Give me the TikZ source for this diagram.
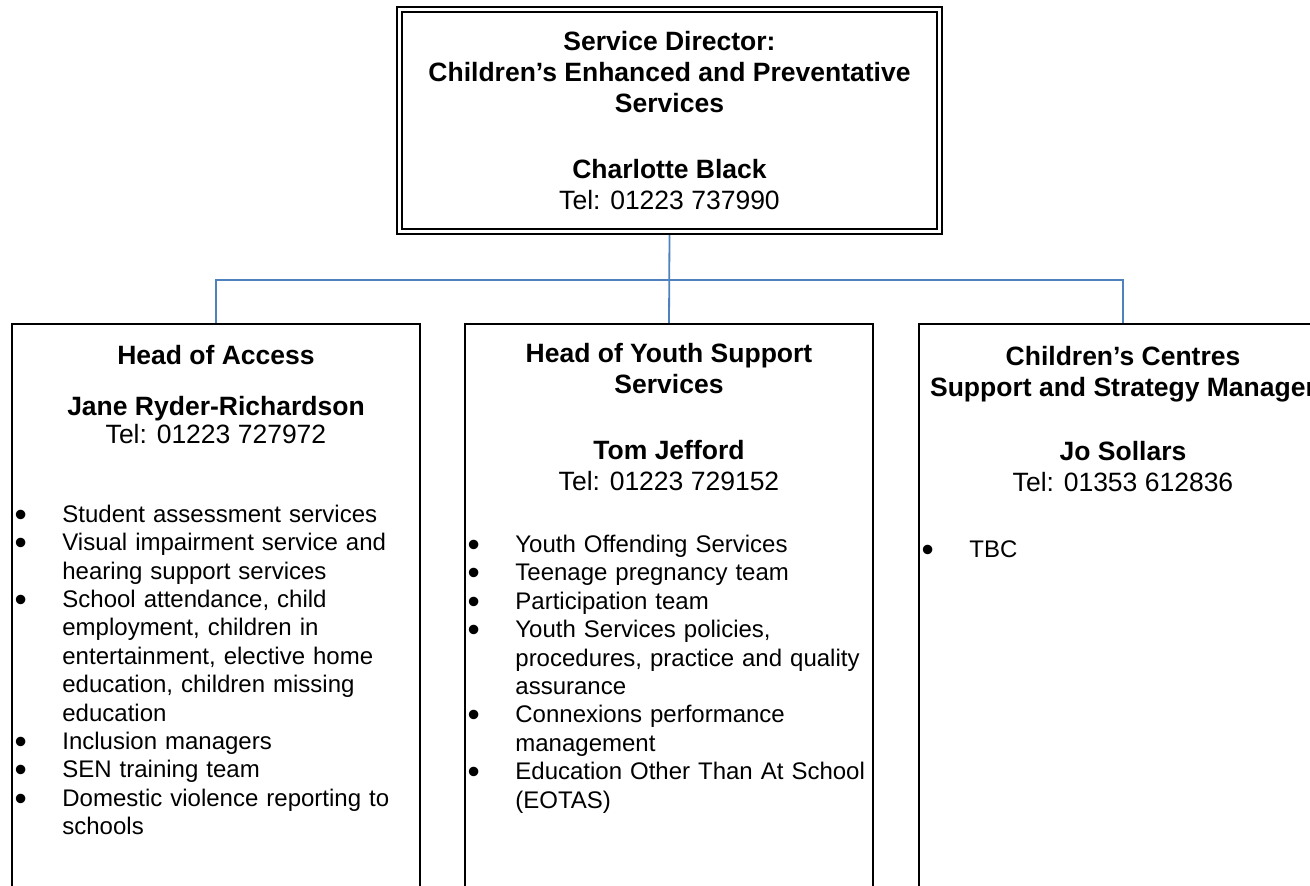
\documentclass[tikz,border=0pt]{standalone}
\usepackage{fontspec}
\setmainfont{Liberation Sans}
\usepackage{xcolor}
\usetikzlibrary{positioning,calc,backgrounds}

\definecolor{linkblue}{RGB}{79,129,189}
\newcommand{\titlefont}{\fontsize{13.25pt}{15.5pt}\selectfont\bfseries}
\newcommand{\dutyfont}{\fontsize{12pt}{14.2pt}\selectfont}
\newcommand{\dutymark}{\smash{\raisebox{-2pt}{\scalebox{1.45}{\textbullet}}}}
\newenvironment{dutylist}{\begin{list}{\dutymark}{\setlength{\leftmargin}{25.5pt}\setlength{\labelwidth}{7.2pt}\setlength{\labelsep}{17.8pt}\setlength{\itemsep}{0pt}\setlength{\parsep}{0pt}\setlength{\topsep}{0pt}\setlength{\partopsep}{0pt}\setlength{\itemindent}{0pt}}}{\end{list}}

\tikzset{
  unitbox/.style={draw, line width=1pt, minimum width=204pt, minimum height=350pt, anchor=north},
  headtext/.style={align=center, inner sep=0pt, font=\titlefont},
  duties/.style={anchor=north west, inner sep=0pt, text width=202pt, align=left, font=\dutyfont},
  link/.style={draw=linkblue, line width=0.9pt}
}

\begin{document}
\begin{tikzpicture}[x=0.5pt, y=-0.5pt]
  \useasboundingbox (0,0) rectangle (1310,886);

  \node[draw, double, line width=1pt, double distance=1.5pt, minimum width=270pt, minimum height=111.25pt, align=center, font=\titlefont] (director) at (669.5,120.5) {Service Director:\\Children’s Enhanced and Preventative\\Services\\[17.5pt]Charlotte Black\\{\mdseries Tel: 01223 737990}};

  \node[unitbox] (access) at (216,323) {};
  \node[unitbox] (youth) at (669,323) {};
  \node[unitbox] (centres) at (1123,323) {};

  \node[headtext, below=10.75pt of access.north] (accesshead) {Head of Access\\[10pt]Jane Ryder-Richardson\\[-1.5pt]{\mdseries Tel: 01223 727972}};
  \node[headtext, below=9.75pt of youth.north] (youthhead) {Head of Youth Support\\Services\\[17.5pt]Tom Jefford\\{\mdseries Tel: 01223 729152}};
  \node[headtext, below=11.25pt of centres.north] (centreshead) {Children’s Centres\\Support and Strategy Manager\\[16.5pt]Jo Sollars\\{\mdseries Tel: 01353 612836}};

  \node[duties] (accessduties) at ([yshift=-85.3pt]access.north west) {\begin{dutylist}
    \item Student assessment services
    \item Visual impairment service and\\hearing support services
    \item School attendance, child\\employment, children in\\entertainment, elective home\\education, children missing\\education
    \item Inclusion managers
    \item SEN training team
    \item Domestic violence reporting to\\schools
  \end{dutylist}};
  \node[duties] (youthduties) at ([yshift=-100.3pt]youth.north west) {\begin{dutylist}
    \item Youth Offending Services
    \item Teenage pregnancy team
    \item Participation team
    \item Youth Services policies,\\procedures, practice and quality\\assurance
    \item Connexions performance\\management
    \item Education Other Than At School\\(EOTAS)
  \end{dutylist}};
  \node[duties] (centresduties) at ([yshift=-102.8pt]centres.north west) {\begin{dutylist}
    \item TBC
  \end{dutylist}};

  \coordinate (hub) at ($(director.south)!0.52!(youth.north)$);
  \begin{scope}[on background layer]
    \draw[link] (director.south) -- (youth.north);
    \draw[link] (access.north) |- (hub) -| (centres.north);
  \end{scope}
\end{tikzpicture}
\end{document}
